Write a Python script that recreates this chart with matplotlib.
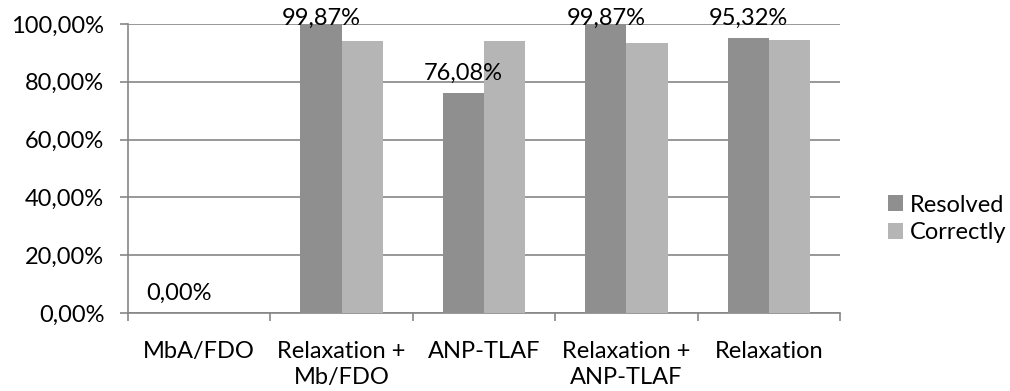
import numpy as np
import matplotlib.pyplot as plt
from matplotlib.ticker import FuncFormatter, MultipleLocator

plt.rcParams['font.family'] = ['Lato', 'DejaVu Sans']

categories = ["MbA/FDO", "Relaxation +\nMb/FDO", "ANP-TLAF", "Relaxation +\nANP-TLAF", "Relaxation"]
resolved = [0.00, 99.87, 76.08, 99.87, 95.32]
correctly = [0.00, 94.1, 94.1, 93.3, 94.6]

dark = "#8f8f8f"
light = "#b5b5b5"
axis_grey = "#868686"
fs = 17

fig = plt.figure(figsize=(10.1, 3.91), dpi=100)
ax = fig.add_axes([0.1267, 0.1995, 0.705, 0.7391])

x = np.arange(len(categories))
w = 0.29
b1 = ax.bar(x - w / 2, resolved, w, color=dark, label="Resolved", zorder=3)
b2 = ax.bar(x + w / 2, correctly, w, color=light, label="Correctly", zorder=3)

# value labels sit above the bars but stay inside the plot area
for rect, v in zip(b1, resolved):
    ax.text(rect.get_x() + rect.get_width() / 2, min(v + 4.5, 99.6),
            f"{v:.2f}%".replace(".", ","),
            ha="center", va="baseline", fontsize=fs, zorder=4)

ax.set_xlim(-0.5, len(categories) - 0.5)
ax.set_ylim(0, 100)
ax.yaxis.set_major_locator(MultipleLocator(20))
ax.yaxis.set_major_formatter(FuncFormatter(lambda v, p: f"{v:.2f}%".replace(".", ",")))
ax.grid(axis="y", color=axis_grey, linewidth=1.2, zorder=0)

# category labels centred, tick marks on the category boundaries
ax.set_xticks(x)
ax.set_xticklabels(categories, fontsize=fs, linespacing=1.3)
ax.tick_params(axis="x", length=0, pad=20)
ax.set_xticks(np.arange(-0.5, len(categories)), minor=True)
ax.tick_params(axis="x", which="minor", length=6, color=axis_grey, width=1.2)
ax.tick_params(axis="y", length=6, color=axis_grey, width=1.2, labelsize=fs, pad=11)

for s in ["top", "right"]:
    ax.spines[s].set_visible(False)
for s in ["left", "bottom"]:
    ax.spines[s].set_color(axis_grey)
    ax.spines[s].set_linewidth(1.2)

fig.legend(handles=[b1, b2], loc="center left", bbox_to_anchor=(0.879, 0.44),
           frameon=False, fontsize=fs, handlelength=0.65, handleheight=0.65,
           handletextpad=0.3, labelspacing=0.28, borderaxespad=0, borderpad=0)

fig.savefig("out.png", dpi=100)
